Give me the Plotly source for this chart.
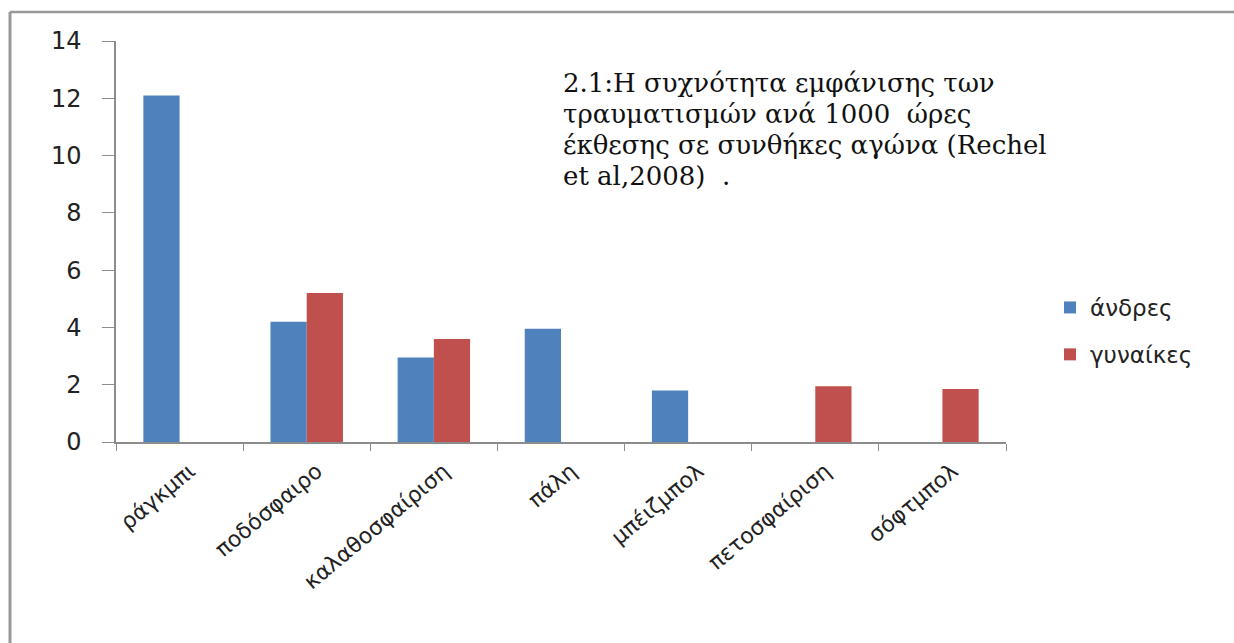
import plotly.graph_objects as go

# Injury rates per 1000 competition exposures, by sport and sex
sports = ["ράγκμπι", "ποδόσφαιρο", "καλαθοσφαίριση", "πάλη",
          "μπέιζμπολ", "πετοσφαίριση", "σόφτμπολ"]
men = [12.1, 4.2, 2.95, 3.95, 1.8, None, None]
women = [None, 5.2, 3.6, None, None, 1.95, 1.85]
y_ticks = [0, 2, 4, 6, 8, 10, 12, 14]

title_lines = ["2.1:Η συχνότητα εμφάνισης των",
               "τραυματισμών ανά 1000  ώρες",
               "έκθεσης σε συνθήκες αγώνα (Rechel",
               "et al,2008)  ."]

W, H = 1234, 643
L, R, T, B = 116, 1006, 41, 442  # plot area in pixels


def px_x(p):
    return (p - L) / (R - L)


def px_y(p):
    return (B - p) / (B - T)


SANS = "DejaVu Sans"

fig = go.Figure()
fig.add_trace(go.Bar(x=sports, y=men, name="άνδρες",
                     marker=dict(color="#4F81BD", line=dict(width=0)),
                     legendgroup="a"))
fig.add_trace(go.Bar(x=sports, y=women, name="γυναίκες",
                     marker=dict(color="#C0504D", line=dict(width=0)),
                     legendgroup="b"))

fig.update_layout(
    width=W, height=H,
    margin=dict(l=L, r=W - R, t=T, b=H - B, autoexpand=False),
    paper_bgcolor="white", plot_bgcolor="white",
    barmode="group", bargap=0.43, bargroupgap=0,
    font=dict(family=SANS, size=21, color="#222"),
    legend=dict(x=px_x(1050), y=px_y(286), xanchor="left", yanchor="top",
                font=dict(family=SANS, size=23, color="#222"),
                tracegroupgap=14, itemwidth=30, bgcolor="rgba(0,0,0,0)"),
    xaxis=dict(showline=True, linecolor="#8c8c8c", linewidth=1.5,
               ticks="outside", ticklen=7, tickcolor="#8c8c8c",
               tickson="boundaries", tickangle=-40, showgrid=False,
               ticklabelshift=10, ticklabelstandoff=6,
               tickfont=dict(family=SANS, size=22, color="#222")),
    yaxis=dict(range=[0, 14], tickvals=y_ticks, showline=True,
               linecolor="#8c8c8c", linewidth=1.5, ticks="outside",
               ticklen=12, tickcolor="#8c8c8c", showgrid=False,
               zeroline=False, ticklabelstandoff=16,
               tickfont=dict(family=SANS, size=24, color="#222")),
    showlegend=True,
)

# Caption text, one annotation per line
for i, line in enumerate(title_lines):
    fig.add_annotation(text=line, xref="paper", yref="paper",
                       x=px_x(561), y=px_y(83 + 31 * i),
                       xanchor="left", yanchor="middle",
                       align="left", showarrow=False,
                       font=dict(family="DejaVu Serif", size=26,
                                 color="#111"))

# Outer frame: top and left edges of the chart object
fig.add_shape(type="line", xref="paper", yref="paper",
              x0=px_x(10), x1=px_x(1240), y0=px_y(12), y1=px_y(12),
              line=dict(color="#999", width=2.5))
fig.add_shape(type="line", xref="paper", yref="paper",
              x0=px_x(10), x1=px_x(10), y0=px_y(12), y1=px_y(650),
              line=dict(color="#999", width=3))

fig.write_html("out.html")
